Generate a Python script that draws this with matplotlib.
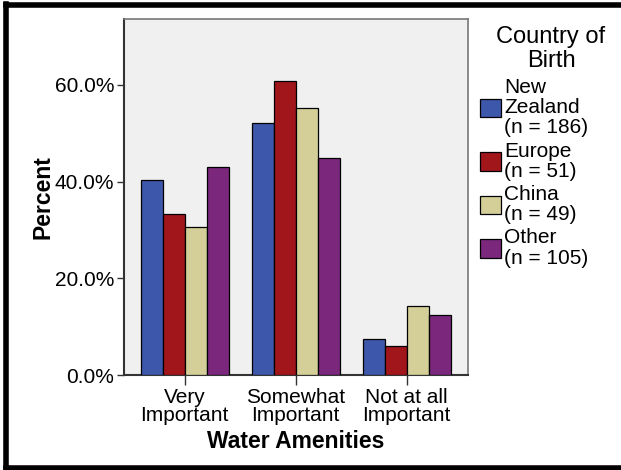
import matplotlib.pyplot as plt
from matplotlib.lines import Line2D
import numpy as np

categories = ['Very\nImportant', 'Somewhat\nImportant', 'Not at all\nImportant']
groups = ['New\nZealand\n(n = 186)', 'Europe\n(n = 51)', 'China\n(n = 49)', 'Other\n(n = 105)']
new_zealand = [40.3, 52.2, 7.5]
europe = [33.3, 60.8, 5.9]
china = [30.6, 55.1, 14.3]
other = [42.9, 44.8, 12.4]
colors = ['#3d58ab', '#a1161b', '#d4cf99', '#7b277c']

plt.rcParams['font.family'] = ['Liberation Sans', 'DejaVu Sans']

fig = plt.figure(figsize=(6.21, 4.70), dpi=100)
ax = fig.add_axes([0.1997, 0.2021, 0.5539, 0.7575])
ax.set_facecolor('#f0f0f0')

x = np.arange(len(categories))
width = 0.1975
series = [new_zealand, europe, china, other]
for i, (vals, col, lab) in enumerate(zip(series, colors, groups)):
    ax.bar(x + (i - 1.5) * width, vals, width, color=col, edgecolor='black',
           linewidth=0.9, label=lab, zorder=3)

ax.set_xlim(-0.547, 2.552)
ax.set_ylim(0, 73.6)
ax.set_yticks([0, 20, 40, 60])
ax.set_yticklabels(['0.0%', '20.0%', '40.0%', '60.0%'], fontsize=15)
ax.set_xticks(x)
ax.set_xticklabels(categories, fontsize=15, linespacing=0.95)
ax.tick_params(axis='y', length=5, width=1, pad=2, colors='#333333', labelcolor='black')
ax.tick_params(axis='x', length=7, width=1, pad=2, colors='#333333', labelcolor='black')

for s in ['top', 'right']:
    ax.spines[s].set_color('#777777')
    ax.spines[s].set_linewidth(1.2)
ax.spines['left'].set_color('#333333')
ax.spines['left'].set_linewidth(1.5)
ax.spines['bottom'].set_color('#333333')
ax.spines['bottom'].set_linewidth(1.5)

ax.set_xlabel('Water Amenities', fontsize=16.5, fontweight='bold', labelpad=4)
ax.set_ylabel('Percent', fontsize=16.5, fontweight='bold', labelpad=0)

leg = ax.legend(loc='upper left', bbox_to_anchor=(480 / 621, 1 - 78 / 470),
                bbox_transform=fig.transFigure, frameon=False, fontsize=15,
                handlelength=1.0, handleheight=1.0, handletextpad=0.15,
                labelspacing=0.2, borderaxespad=0, borderpad=0)
for t in leg.get_texts():
    t.set_linespacing(1.08)

fig.text(551 / 621, 1 - 49 / 470, 'Country of\nBirth', fontsize=17,
         ha='center', va='center', linespacing=1.1)

# outer frame (right edge is cropped in the reference)
lw = 4
fig.add_artist(Line2D([5.5 / 621, 5.5 / 621], [1 - 4 / 470, 1 - 468 / 470],
                      transform=fig.transFigure, color='black', lw=lw, solid_capstyle='projecting'))
fig.add_artist(Line2D([5.5 / 621, 1.01], [1 - 5 / 470, 1 - 5 / 470],
                      transform=fig.transFigure, color='black', lw=lw, solid_capstyle='projecting'))
fig.add_artist(Line2D([5.5 / 621, 1.01], [1 - 468 / 470, 1 - 468 / 470],
                      transform=fig.transFigure, color='black', lw=lw, solid_capstyle='projecting'))

fig.savefig('out.png', dpi=100, facecolor='white')
